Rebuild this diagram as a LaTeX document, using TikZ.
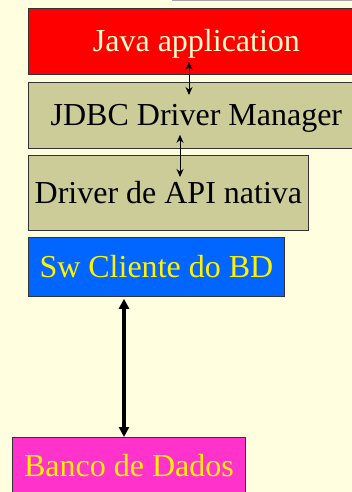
\documentclass[tikz,border=0pt]{standalone}
\usepackage{fontspec}
\setmainfont{Liberation Serif}
\usetikzlibrary{arrows.meta}

\definecolor{fundo}{HTML}{FFFFE0}
\definecolor{oliva}{HTML}{CCCC99}
\definecolor{azul}{HTML}{0066FF}
\definecolor{magenta}{HTML}{FF33CC}
\definecolor{creme}{HTML}{FFFFCC}

\tikzset{
  camada/.style={rectangle, draw=black!80, line width=0.8pt, anchor=north west,
    inner sep=0pt, text height=21pt, text depth=0pt,
    font=\fontsize{32}{32}\selectfont},
  fino/.style={{Stealth[length=8pt,width=7pt]}-{Stealth[length=8pt,width=7pt]}, line width=0.9pt},
  grosso/.style={{Triangle[length=10pt,width=10pt]}-{Triangle[length=10pt,width=10pt]}, line width=3.5pt}
}

\begin{document}
\begin{tikzpicture}[x=1pt, y=-1pt]
    \fill[fundo] (0,0) rectangle (352,492);
    \useasboundingbox (0,0) rectangle (352,492);
    \clip (0,0) rectangle (352,492);
    \draw[gray!70, line width=1.2pt] (172,0.6) -- (352,0.6);
    \node[camada, fill=red, text=creme, minimum width=336pt, minimum height=66pt] (java) at (28,8) {Java application};
    \node[camada, fill=oliva, minimum width=336pt, minimum height=66pt] (jdbc) at (28,82) {JDBC Driver Manager};
    \node[camada, fill=oliva, minimum width=280pt, minimum height=75pt] (nativo) at (28,155) {Driver de API nativa};
    \node[camada, fill=azul, text=yellow, minimum width=256pt, minimum height=59pt] (cliente) at (28,237) {Sw Cliente do BD};
    \node[camada, fill=magenta, text=yellow, minimum width=233pt, minimum height=58pt] (banco) at (12,437) {Banco de Dados};
    \draw[fino] ([xshift=161pt, yshift=13pt]java.south west) -- ([xshift=161pt, yshift=-13pt]jdbc.north west);
    \draw[fino] ([xshift=152pt, yshift=14pt]jdbc.south west) -- ([xshift=152pt, yshift=-22pt]nativo.north west);
    \draw[grosso] ([xshift=96pt, yshift=-2pt]cliente.south west) -- ([xshift=112pt]banco.north west);
  \end{tikzpicture}
\end{document}
